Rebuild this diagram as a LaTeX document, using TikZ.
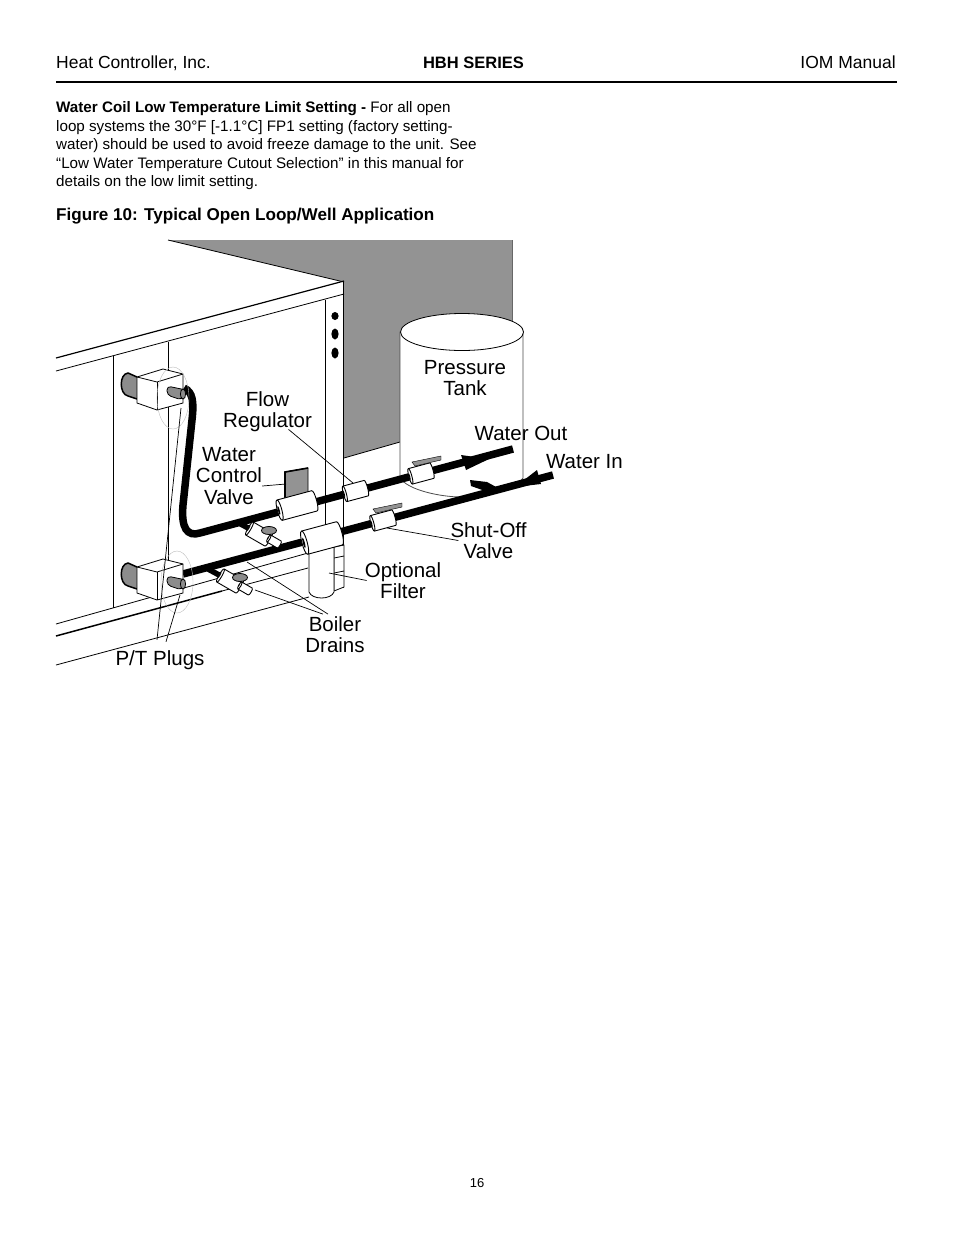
\documentclass[tikz,border=0pt]{standalone}
\usepackage{fontspec}
\setmainfont{Liberation Sans}
\usetikzlibrary{calc}
\definecolor{WallGray}{HTML}{939393}
\definecolor{PlugGray}{HTML}{8C8C8C}
\definecolor{HaloGray}{HTML}{BDBDBD}
\tikzset{
  pics/sleeve/.style n args={3}{code={
    \draw[line width=0.9pt,fill=white] (-#1,-#2) .. controls (-#1-#3,-#2) and (-#1-#3,#2) .. (-#1,#2)
      -- (#1,#2) .. controls (#1+#3,#2) and (#1+#3,-#2) .. (#1,-#2) -- cycle;
    \draw[line width=0.9pt] (-#1,-#2) .. controls (-#1+#3,-#2) and (-#1+#3,#2) .. (-#1,#2);
    \fill[black] (-#1-0.8,0) ellipse[x radius=0.3*#3,y radius=0.45*#2];
  }}
}
\begin{document}
\begin{tikzpicture}[x=1pt,y=-1pt,
    every node/.style={inner sep=0pt},
    label/.style={font=\fontsize{20.5}{21.3}\selectfont,align=center},
    leader/.style={line width=0.7pt},
    panel/.style={line width=0.8pt},
    pipe/.style={line width=7.5pt},
    filled/.style={draw=black,line width=0.8pt,fill=white},
    halo/.style={draw=HaloGray,line width=0.4pt}
  ]
  \useasboundingbox (0,0) rectangle (954,1235);
  % page head
  \node[anchor=base west,font=\fontsize{17.5}{18}\selectfont] (company) at (56,68.5) {Heat Controller, Inc.};
  \node[anchor=base,font=\fontsize{16.5}{18}\selectfont\bfseries] (series) at (473.5,68.5) {HBH SERIES};
  \node[anchor=base east,font=\fontsize{17.5}{18}\selectfont] (manual) at (896,68.5) {IOM Manual};
  \draw[line width=2pt] (company.base west |- 0,81.5) -- (897,81.5);
  \node[anchor=north west,align=left,font=\fontsize{15.2}{18.5}\selectfont] (para) at (56,101.5)
    {\textbf{Water Coil Low Temperature Limit Setting -} For all open\\
     loop systems the 30°F [-1.1°C] FP1 setting (factory setting-\\
     water) should be used to avoid freeze damage to the unit. See\\
     “Low Water Temperature Cutout Selection” in this manual for\\
     details on the low limit setting.};
  \node[anchor=base west,font=\fontsize{17.1}{18}\selectfont\bfseries] (caption) at (56,220) {Figure 10: Typical Open Loop/Well Application};
  \node[font=\fontsize{13}{15}\selectfont] (pageno) at (477,1183) {16};

  % wall behind the unit
  \fill[WallGray] (168,240) -- (512,240) -- (512,340) -- (400,442) -- (344,458) -- (344,282) -- cycle;
  \draw[panel] (168,240) -- (344,282);
  \draw[WallGray!70!black,line width=0.8pt] (512,240) -- (512,330);
  \draw[panel] (344,458) -- (400,442);

  % pressure tank
  \draw[draw=black!70,line width=0.8pt,fill=white] (400,332) -- (400,478) .. controls (408,490) and (440,497) .. (462,497)
    .. controls (490,497) and (515,490) .. (523,478) -- (523,332) -- cycle;
  \draw[filled] (462,332) ellipse[x radius=61.5,y radius=18.5];

  % cabinet
  \draw[line width=1.2pt] (56,358) -- (344,281);
  \draw[panel] (56,371) -- (344,294);
  \draw[panel] (113,356) -- (113,608);
  \draw[panel] (168,342) -- (168,562);
  \draw[panel] (325.5,300) -- (325.5,532);
  \draw[panel] (343.5,281) -- (343.5,588);
  \foreach \yy/\ry in {316/4,334/5.5,353/5.5}
    \fill (335,\yy) ellipse[x radius=3.6,y radius=\ry];
  \draw[panel] (56,624) -- (308,553);
  \draw[line width=1.5pt] (56,636) -- (222,591);
  \draw[panel] (222,591) -- (308,568);
  \draw[panel] (56,665) -- (309,597);

  % filter
  \draw[filled] (334,547) -- (344,545) -- (344,587) -- (334,591) -- cycle;
  \draw[panel] (334,558) -- (344,556);
  \draw[panel] (334,573) -- (344,571);
  \draw[filled] (309,545) -- (309,592) .. controls (312,600) and (331,600) .. (334,592) -- (334,545) -- cycle;

  % leaders that run behind the pipes
  \node[label] (boilerlbl) at (335,634.5) {Boiler\\Drains};
  \coordinate (draintipa) at (247,562);
  \coordinate (draintipb) at (255,590);
  \draw[leader] ([xshift=-7pt,yshift=2pt]boilerlbl.north) -- (draintipa);
  \draw[leader] ([xshift=-12pt,yshift=2pt]boilerlbl.north) -- (draintipb);

  % pipes
  \draw[pipe] (184,388) .. controls (193,392) and (194,402) .. (192,420) -- (183,505)
    .. controls (181,528) and (187,537) .. (200,533) -- (513,449);
  \draw[pipe] (183,574) -- (553,475);
  \fill (461,455) -- (489,459) -- (466,470) -- cycle;
  \fill (515,487) -- (537,470) -- (541,484) -- cycle;
  \fill (470,480) -- (471,486) -- (488,492) -- (498,488) -- (487,482) -- cycle;

  % cubes, caps and plugs
  \foreach \yy in {0,190} {
    \begin{scope}[yshift=-\yy pt]
      \fill[PlugGray] (137,377) -- (128,373) .. controls (119,374) and (119,394) .. (128,396) -- (137,399) -- cycle;
      \draw[line width=1.5pt] (137,377) -- (128,373) .. controls (119,374) and (119,394) .. (128,396) -- (137,399);
      \draw[filled] (137,377) -- (163,369) -- (183,374) -- (183,403) -- (157,410) -- (137,403) -- cycle;
      \draw[panel] (137,377) -- (157,382) -- (183,374);
      \draw[panel] (157,382) -- (157,410);
    \end{scope}
  }
  \foreach \yy in {394,584} {
    \draw[draw=black,line width=0.8pt,fill=PlugGray,rounded corners=4pt] (186,\yy-4) -- (182,\yy+6) -- (167,\yy+1) -- (167,\yy-8) -- cycle;
    \draw[draw=black,line width=0.8pt,fill=PlugGray] (183,\yy) ellipse[x radius=2.6,y radius=5];
  }
  \draw[halo] (173,398) ellipse[x radius=16,y radius=31];
  \draw[halo] (177,582) ellipse[x radius=16,y radius=31];

  % boiler drains
  \foreach \dx/\dy in {0/0,-29/47} {
    \begin{scope}[shift={(\dx,\dy)}]
      \draw[line width=5.5pt] (237,522) -- (250,529);
      \pic[rotate=-30] at (259,534) {sleeve={11}{7.5}{2}};
      \pic[rotate=-30] at (274,541.5) {sleeve={6}{4}{1.5}};
      \draw[filled,fill=PlugGray] (269,530.5) ellipse[x radius=7.5,y radius=4];
    \end{scope}
  }

  % valves on the lines
  \draw[draw=black,line width=0.9pt,fill=WallGray] (285,472) -- (308,468) -- (308,495) -- (285,500) -- cycle;
  \draw[line width=1.6pt] (285,500) -- (285,472) -- (308,468);
  \pic[rotate=15] (ctrlvalve) at (297,505.5) {sleeve={18}{10.5}{3}};
  \pic[rotate=15] (flowreg) at (355.5,491) {sleeve={11}{8}{2}};
  \pic[rotate=15] (shutupper) at (421,473.5) {sleeve={11}{8}{2}};
  \pic[rotate=15] (shutlower) at (383,520.5) {sleeve={11}{8}{2}};
  \pic[rotate=15] (filterhead) at (322,538) {sleeve={18}{12}{3.5}};
  \foreach \dx/\dy in {0/0,-39/47} {
    \draw[draw=black,line width=0.4pt,fill=WallGray] (412+\dx,462+\dy) -- (441+\dx,456+\dy) -- (441+\dx,460+\dy) -- (415+\dx,466+\dy) -- cycle;
  }

  % labels
  \node[label] (tanklbl) at (465,378) {Pressure\\Tank};
  \node[label] (flowlbl) at (267.5,411.5) {Flow\\Regulator};
  \node[label] (ctrllbl) at (229,476) {Water\\Control\\Valve};
  \node[label] (outlbl) at (521,433.5) {Water Out};
  \node[label] (inlbl) at (584.5,461.5) {Water In};
  \node[label] (shutlbl) at (488.5,540.5) {Shut-Off\\Valve};
  \node[label] (filterlbl) at (403,580.5) {Optional\\Filter};
  \node[label] (ptlbl) at (160,660.5) {P/T Plugs};

  % leaders
  \coordinate (flowtip) at (353,483);
  \coordinate (ctrltip) at (286,484);
  \coordinate (shuttip) at (387,528);
  \coordinate (filtertip) at (329,573);
  \coordinate (pttipa) at (181,408);
  \coordinate (pttipb) at (180,595);
  \draw[leader] ([xshift=21pt,yshift=2.5pt]flowlbl.south) -- (flowtip);
  \draw[leader] ([yshift=-10pt]ctrllbl.east) -- (ctrltip);
  \draw[leader] ([xshift=8pt]shutlbl.west) -- (shuttip);
  \draw[leader] ([xshift=2pt]filterlbl.west) -- (filtertip);
  \draw[leader] ([xshift=-3pt,yshift=11pt]ptlbl.north) -- (pttipa);
  \draw[leader] ([xshift=6pt,yshift=9pt]ptlbl.north) -- (pttipb);
\end{tikzpicture}
\end{document}
